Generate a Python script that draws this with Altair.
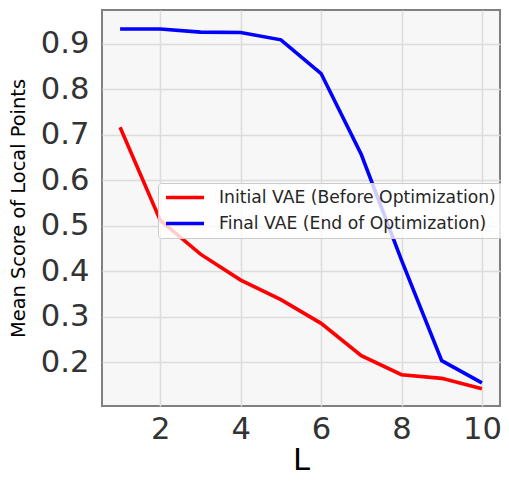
import altair as alt
import pandas as pd

L_values = [1, 2, 3, 4, 5, 6, 7, 8, 9, 10]
initial_vae = [0.717, 0.512, 0.438, 0.381, 0.338, 0.286, 0.215, 0.173, 0.165, 0.142]
final_vae = [0.933, 0.933, 0.926, 0.925, 0.909, 0.835, 0.657, 0.425, 0.204, 0.155]
series_names = ["Initial VAE (Before Optimization)", "Final VAE (End of Optimization)"]
series_colors = ["#ff0000", "#0000ff"]
x_ticks = [2, 4, 6, 8, 10]
y_ticks = [0.2, 0.3, 0.4, 0.5, 0.6, 0.7, 0.8, 0.9]

rows = []
for i, x in enumerate(L_values):
    rows.append({"L": x, "score": initial_vae[i], "series": series_names[0], "order": 0})
    rows.append({"L": x, "score": final_vae[i], "series": series_names[1], "order": 1})
df = pd.DataFrame(rows)

FONT = "DejaVu Sans"

chart = alt.Chart(df).mark_line(strokeWidth=3.6, clip=True).encode(
    x=alt.X("L:Q",
            scale=alt.Scale(domain=[0.55, 10.45], nice=False, zero=False),
            axis=alt.Axis(title="L", values=x_ticks, format="d", tickSize=0, ticks=False,
                          labelPadding=8, titlePadding=1, domain=False,
                          labelFontSize=30.6, titleFontSize=30.6)),
    y=alt.Y("score:Q",
            scale=alt.Scale(domain=[0.1043, 0.9746], nice=False, zero=False),
            axis=alt.Axis(title="Mean Score of Local Points", values=y_ticks, format=".1f",
                          tickSize=0, ticks=False, labelPadding=13, titlePadding=12, domain=False,
                          labelFontSize=30.6, titleFontSize=19.4)),
    color=alt.Color("series:N",
                    scale=alt.Scale(domain=series_names, range=series_colors),
                    legend=alt.Legend(title=None, orient="none", legendX=56, legendY=173,
                                      symbolType="stroke", symbolSize=1444, symbolStrokeWidth=3.6,
                                      labelFontSize=17.2, labelOffset=13, clipHeight=17,
                                      rowPadding=8, padding=6, fillColor="rgba(255,255,255,0.8)",
                                      strokeColor="#cccccc", cornerRadius=3,
                                      labelFont=FONT, labelColor="#262626", labelLimit=0)),
    order=alt.Order("order:Q"),
    detail="series:N",
).properties(
    width=398, height=396,
    padding={"left": 94, "top": 2, "right": 1, "bottom": 74},
    autosize=alt.AutoSizeParams(type="none"),
    background="white",
).configure_view(
    fill="#f7f7f7", stroke="#808080", strokeWidth=2
).configure_axis(
    labelFont=FONT, titleFont=FONT, labelColor="#333333", titleColor="#000000",
    titleFontWeight="normal", gridColor="#dcdcdc", gridWidth=1.5,
)

chart.save("out.html", embed_options={"renderer": "svg", "actions": False})
